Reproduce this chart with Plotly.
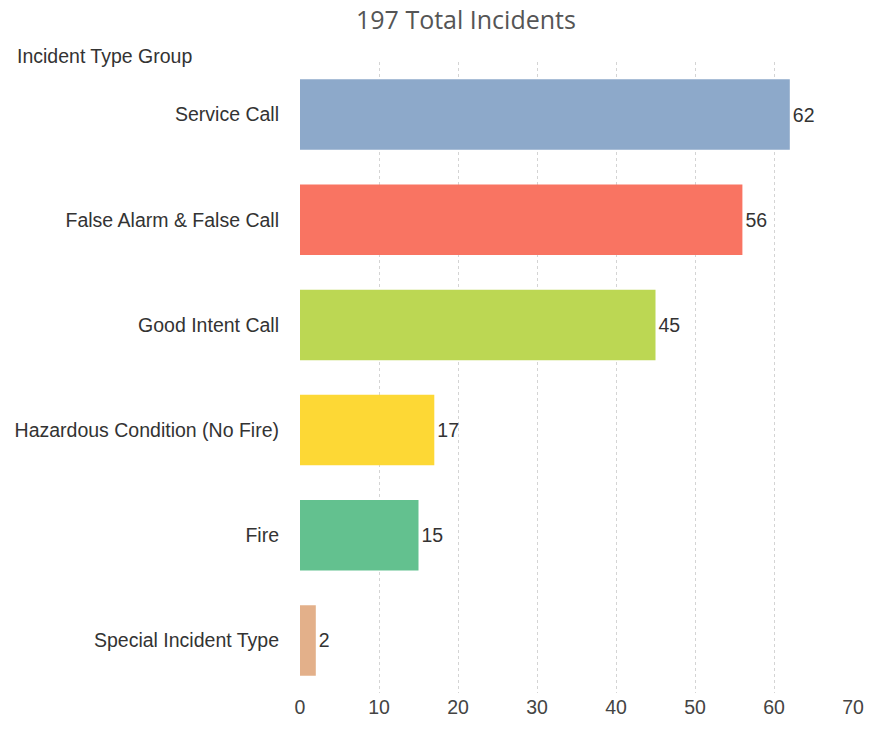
import plotly.graph_objects as go

categories = ["Service Call", "False Alarm & False Call", "Good Intent Call",
              "Hazardous Condition (No Fire)", "Fire", "Special Incident Type"]
counts = [62, 56, 45, 17, 15, 2]
colors = ["#8DA9CA", "#F97462", "#BCD753", "#FDD835", "#63C18F", "#E3B08A"]
x_ticks = [0, 10, 20, 30, 40, 50, 60, 70]

W, H = 875, 729
L, R, T, B = 300, 11, 62, 24
PW = W - L - R

fig = go.Figure(go.Bar(
    y=categories, x=counts, orientation="h",
    marker=dict(color=colors, line=dict(width=0)),
    text=[str(v) for v in counts], textposition="outside",
    textfont=dict(family="Liberation Sans, Arial", size=19.5, color="#333333"),
    cliponaxis=False, hoverinfo="x+y",
))

fig.update_layout(
    width=W, height=H,
    margin=dict(l=L, r=R, t=T, b=B),
    paper_bgcolor="white", plot_bgcolor="white",
    bargap=0.33, showlegend=False,
    font=dict(family="Liberation Sans, Arial", size=19.5, color="#333333"),
    xaxis=dict(range=[0, 70], tickvals=x_ticks, showgrid=True,
               gridcolor="#D4D4D4", griddash="3px,3px", gridwidth=1,
               zeroline=False, showline=False, ticks="",
               tickfont=dict(size=19.5, color="#444444")),
    yaxis=dict(autorange="reversed", showgrid=False, zeroline=False,
               showline=False, ticks="", ticklabelstandoff=20,
               tickfont=dict(size=19.5, color="#333333")),
    annotations=[
        dict(text="197 Total Incidents", xref="paper", yref="paper",
             x=(469 - L) / PW, y=1, yshift=43,
             xanchor="center", yanchor="middle", showarrow=False,
             font=dict(family="Open Sans, DejaVu Sans", size=25, color="#555555")),
        dict(text="Incident Type Group", xref="paper", yref="paper",
             x=(9 - L) / PW, y=1, yshift=6,
             xanchor="left", yanchor="middle", showarrow=False,
             font=dict(family="Liberation Sans, Arial", size=19.5, color="#333333")),
    ],
)

fig.write_html("out.html", config={"displayModeBar": False},
               post_script="document.body.style.margin='0';")
